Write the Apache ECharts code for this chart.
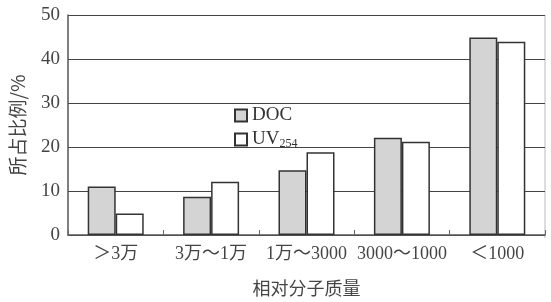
<!DOCTYPE html>
<html>
<head>
<meta charset="utf-8">
<script src="https://cdn.jsdelivr.net/npm/echarts@6/dist/echarts.min.js"></script>
<style>
  html, body { margin: 0; padding: 0; background: #fff; }
  #chart { width: 551px; height: 302px; }
</style>
</head>
<body>
<div id="chart"></div>
<script>
const categories = ['＞3万', '3万～1万', '1万～3000', '3000～1000', '＜1000'];
const docValues = [11.0, 8.7, 14.7, 22.1, 44.9];
const uvValues = [4.9, 12.1, 18.8, 21.2, 43.9];
const yTicks = [0, 10, 20, 30, 40, 50];

const FONT = '"Liberation Serif", "Noto Sans CJK SC", serif';
const CJK = '"Noto Sans CJK SC", sans-serif';
const edge = '#333';

const chart = echarts.init(document.getElementById('chart'));

chart.setOption({
  animation: false,
  textStyle: { fontFamily: FONT, color: '#333' },
  grid: { left: 67, right: 6, top: 15, bottom: 64, containLabel: false },
  legend: {
    orient: 'vertical',
    left: 229,
    top: 101,
    itemWidth: 12,
    itemHeight: 12,
    itemGap: 5,
    icon: 'rect',
    data: ['DOC', 'UV254'],
    formatter: (name) => (name === 'UV254' ? '{a|UV}{s|254}' : '{a|DOC}'),
    textStyle: {
      rich: {
        a: { fontFamily: FONT, fontSize: 19, color: '#333' },
        s: { fontFamily: FONT, fontSize: 12, color: '#333', verticalAlign: 'bottom', padding: [9, 0, 0, 0] },
      },
    },
  },
  xAxis: {
    type: 'category',
    data: categories,
    name: '相对分子质量',
    nameLocation: 'middle',
    nameGap: 44,
    nameTextStyle: { fontFamily: CJK, fontSize: 18, color: '#444' },
    axisLine: { lineStyle: { color: '#555', width: 1.5 } },
    axisTick: { show: true, inside: true, length: 5, lineStyle: { color: '#666' } },
    axisLabel: { interval: 0, fontFamily: FONT, fontSize: 18, color: '#444', margin: 10 },
  },
  yAxis: {
    type: 'value',
    min: yTicks[0],
    max: yTicks[yTicks.length - 1],
    interval: 10,
    name: '所占比例/%',
    nameLocation: 'middle',
    nameGap: 41,
    nameRotate: 90,
    nameTextStyle: { fontFamily: CJK, fontSize: 19, color: '#444' },
    axisLine: { show: true, lineStyle: { color: '#555', width: 1.5 } },
    axisTick: { show: false },
    axisLabel: { fontFamily: FONT, fontSize: 19, color: '#444', margin: 8 },
    splitLine: { show: true, lineStyle: { color: '#444', width: 1 } },
  },
  series: [
    {
      name: 'DOC',
      type: 'bar',
      data: docValues,
      barWidth: 28,
      barGap: '0%',
      itemStyle: { color: '#d4d4d4', borderColor: edge, borderWidth: 1.5 },
    },
    {
      name: 'UV254',
      type: 'bar',
      data: uvValues,
      barWidth: 28,
      itemStyle: { color: '#fff', borderColor: edge, borderWidth: 1.5 },
    },
  ],
  graphic: [
    { type: 'line', shape: { x1: 545, y1: 15, x2: 545, y2: 238 }, style: { stroke: '#bbb', lineWidth: 1 } },
  ],
});
</script>
</body>
</html>
